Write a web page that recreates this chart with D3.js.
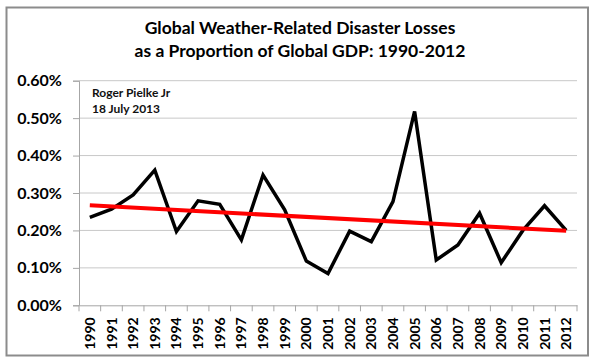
<!DOCTYPE html>
<html>
<head>
<meta charset="utf-8">
<script src="https://cdn.jsdelivr.net/npm/d3@7"></script>
<style>
  html, body { margin: 0; padding: 0; background: #fff; }
  svg { display: block; }
</style>
</head>
<body>
<svg id="chart" width="598" height="363"></svg>
<script>
// ---- data ----
const years = ["1990","1991","1992","1993","1994","1995","1996","1997","1998","1999","2000","2001","2002","2003","2004","2005","2006","2007","2008","2009","2010","2011","2012"];
const lossShare = [0.235,0.257,0.295,0.361,0.197,0.279,0.270,0.175,0.348,0.255,0.118,0.085,0.198,0.170,0.277,0.518,0.121,0.161,0.246,0.114,0.200,0.266,0.200];
const trendYears = ["1990","2012"];
const trendValues = [0.267, 0.199];
const yTicks = [0, 0.1, 0.2, 0.3, 0.4, 0.5, 0.6];
const titleLines = ["Global Weather-Related Disaster Losses", "as a Proportion of Global GDP: 1990-2012"];
const noteLines = ["Roger Pielke Jr", "18 July 2013"];

// ---- layout ----
const svg = d3.select("#chart");
const plot = { left: 79, right: 577, top: 80.7, bottom: 305.3 };
const font = "Lato, 'Open Sans', sans-serif";

// outer frame
svg.append("rect")
  .attr("x", 6.5).attr("y", 7.5).attr("width", 581.5).attr("height", 348)
  .attr("fill", "#fff").attr("stroke", "#8c8c8c").attr("stroke-width", 2);

const x = d3.scaleBand().domain(years).range([plot.left, plot.right]);
const y = d3.scaleLinear().domain([0, 0.6]).range([plot.bottom, plot.top]);

// gridlines
svg.append("g").selectAll("line").data(yTicks.filter(d => d > 0)).join("line")
  .attr("x1", plot.left).attr("x2", plot.right)
  .attr("y1", d => y(d)).attr("y2", d => y(d))
  .attr("stroke", "#c8c8c8").attr("stroke-width", 1);

// y axis
const yAxis = svg.append("g").attr("transform", `translate(${plot.left},0)`)
  .call(d3.axisLeft(y).tickValues(yTicks).tickSize(6).tickPadding(11)
    .tickFormat(d => d.toFixed(2) + "%"));
yAxis.select(".domain").attr("stroke", "#a6a6a6");
yAxis.selectAll(".tick line").attr("stroke", "#a6a6a6");
yAxis.selectAll("text").attr("font-family", font).attr("font-weight", "bold")
  .attr("font-size", 16).attr("fill", "#000");

// x axis
const xAxis = svg.append("g").attr("transform", `translate(0,${plot.bottom})`)
  .call(d3.axisBottom(x).tickSize(0).tickPadding(0));
xAxis.select(".domain").attr("stroke", "#a6a6a6");
xAxis.selectAll(".tick text")
  .attr("font-family", font).attr("font-weight", "bold").attr("font-size", 14)
  .attr("fill", "#000")
  .attr("transform", "rotate(-90)")
  .attr("text-anchor", "end")
  .attr("x", -12).attr("y", 0).attr("dy", "0.36em");
// boundary tick marks
svg.append("g").selectAll("line")
  .data(years.concat(["end"])).join("line")
  .attr("x1", (d, i) => plot.left + i * x.bandwidth())
  .attr("x2", (d, i) => plot.left + i * x.bandwidth())
  .attr("y1", plot.bottom).attr("y2", plot.bottom + 6)
  .attr("stroke", "#a6a6a6");

// data line
const line = d3.line().x((d, i) => x(years[i]) + x.bandwidth() / 2).y(d => y(d));
svg.append("path").datum(lossShare)
  .attr("d", line).attr("fill", "none")
  .attr("stroke", "#000").attr("stroke-width", 3.5).attr("stroke-linejoin", "miter");

// trend line
const tline = d3.line().x((d, i) => x(trendYears[i]) + x.bandwidth() / 2).y(d => y(d));
svg.append("path").datum(trendValues)
  .attr("d", tline).attr("fill", "none")
  .attr("stroke", "#ff0000").attr("stroke-width", 4);

// title
svg.append("g").selectAll("text").data(titleLines).join("text")
  .attr("x", 300).attr("y", (d, i) => 34 + i * 23)
  .attr("text-anchor", "middle")
  .attr("font-family", font).attr("font-weight", "bold").attr("font-size", 17.5)
  .attr("fill", "#000").text(d => d);

// note
svg.append("g").selectAll("text").data(noteLines).join("text")
  .attr("x", 92).attr("y", (d, i) => 97 + i * 15.5)
  .attr("font-family", font).attr("font-weight", "bold").attr("font-size", 12)
  .attr("fill", "#111").text(d => d);
</script>
</body>
</html>
